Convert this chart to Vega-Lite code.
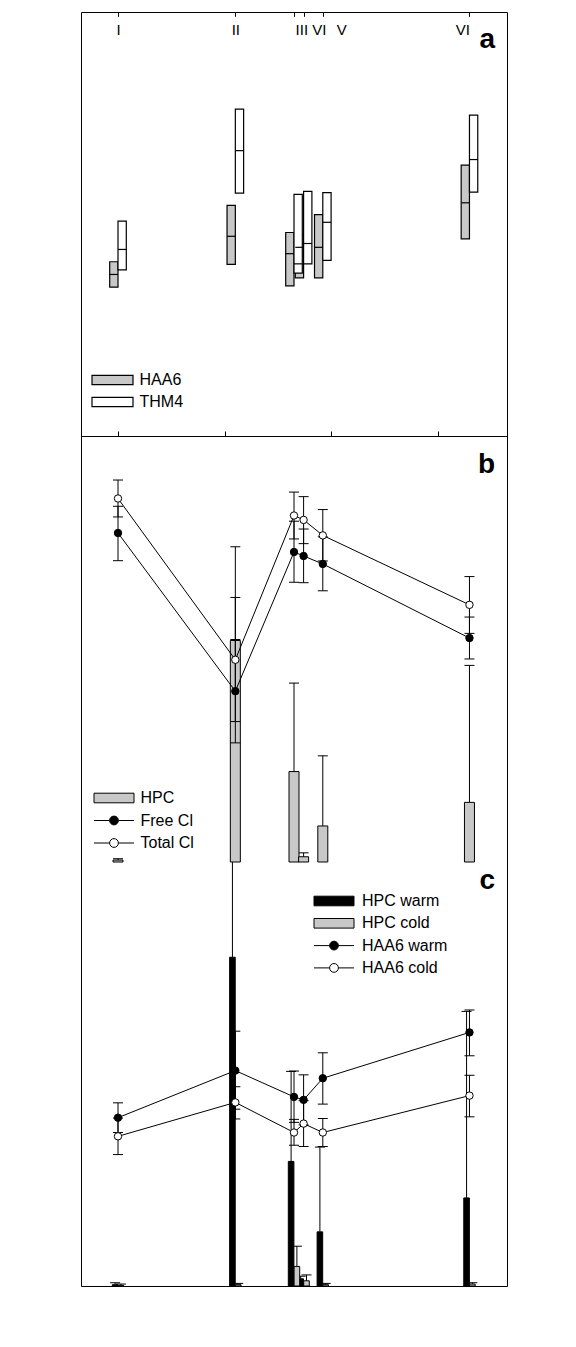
{
  "$schema": "https://vega.github.io/schema/vega-lite/v6.json",
  "width": 426,
  "height": 1274,
  "autosize": {"type": "none"},
  "padding": {"left": 81, "top": 12, "right": 69, "bottom": 61},
  "background": "white",
  "datasets": {
    "boxes": [
      {"site": "I", "dist": 0, "param": "HAA6", "q1": 25.1, "med": 28.1, "q3": 31.1},
      {"site": "I", "dist": 0, "param": "THM4", "q1": 29.2, "med": 34.0, "q3": 40.7},
      {"site": "II", "dist": 1100, "param": "HAA6", "q1": 30.5, "med": 37.1, "q3": 44.4},
      {"site": "II", "dist": 1100, "param": "THM4", "q1": 47.3, "med": 57.3, "q3": 67.1},
      {"site": "III", "dist": 1650, "param": "HAA6", "q1": 25.4, "med": 33.0, "q3": 38.0},
      {"site": "III", "dist": 1650, "param": "THM4", "q1": 28.4, "med": 30.6, "q3": 47.0},
      {"site": "IV", "dist": 1740, "param": "HAA6", "q1": 27.3, "med": 34.5, "q3": 37.5},
      {"site": "IV", "dist": 1740, "param": "THM4", "q1": 30.6, "med": 35.4, "q3": 47.7},
      {"site": "V", "dist": 1920, "param": "HAA6", "q1": 27.3, "med": 34.5, "q3": 42.2},
      {"site": "V", "dist": 1920, "param": "THM4", "q1": 31.4, "med": 40.4, "q3": 47.4},
      {"site": "VI", "dist": 3295, "param": "HAA6", "q1": 36.5, "med": 45.0, "q3": 53.9},
      {"site": "VI", "dist": 3295, "param": "THM4", "q1": 47.5, "med": 55.2, "q3": 65.7}
    ],
    "hpcb": [
      {"dist": 0, "series": "HPC", "value": 0.3, "hi": 0.5},
      {"dist": 1100, "series": "HPC", "value": 33.8, "hi": 48.1},
      {"dist": 1650, "series": "HPC", "value": 13.8, "hi": 27.3},
      {"dist": 1740, "series": "HPC", "value": 0.8, "hi": 1.4},
      {"dist": 1920, "series": "HPC", "value": 5.5, "hi": 16.2},
      {"dist": 3295, "series": "HPC", "value": 9.1, "hi": 30.0}
    ],
    "cl": [
      {"dist": 0, "series": "Free Cl", "value": 1.817, "lo": 1.622, "hi": 2.005},
      {"dist": 1100, "series": "Free Cl", "value": 0.703, "lo": 0.339, "hi": 1.067},
      {"dist": 1650, "series": "Free Cl", "value": 1.683, "lo": 1.47, "hi": 1.9},
      {"dist": 1740, "series": "Free Cl", "value": 1.655, "lo": 1.467, "hi": 1.845},
      {"dist": 1920, "series": "Free Cl", "value": 1.599, "lo": 1.41, "hi": 1.79},
      {"dist": 3295, "series": "Free Cl", "value": 1.077, "lo": 0.93, "hi": 1.225},
      {"dist": 0, "series": "Total Cl", "value": 2.06, "lo": 1.93, "hi": 2.19},
      {"dist": 1100, "series": "Total Cl", "value": 0.924, "lo": 0.489, "hi": 1.363},
      {"dist": 1650, "series": "Total Cl", "value": 1.94, "lo": 1.775, "hi": 2.105},
      {"dist": 1740, "series": "Total Cl", "value": 1.909, "lo": 1.742, "hi": 2.073},
      {"dist": 1920, "series": "Total Cl", "value": 1.8, "lo": 1.62, "hi": 1.982},
      {"dist": 3295, "series": "Total Cl", "value": 1.311, "lo": 1.11, "hi": 1.51}
    ],
    "hpcc": [
      {"dist": 0, "series": "HPC warm", "value": 0.2, "hi": 0.5},
      {"dist": 1100, "series": "HPC warm", "value": 50.4, "hi": 65},
      {"dist": 1650, "series": "HPC warm", "value": 19.1, "hi": 32.9},
      {"dist": 1740, "series": "HPC warm", "value": 1.1, "hi": 1.5},
      {"dist": 1920, "series": "HPC warm", "value": 8.3, "hi": 21.3},
      {"dist": 3295, "series": "HPC warm", "value": 13.5, "hi": 42.1},
      {"dist": 0, "series": "HPC cold", "value": 0.1, "hi": 0.3},
      {"dist": 1100, "series": "HPC cold", "value": 0.2, "hi": 0.4},
      {"dist": 1650, "series": "HPC cold", "value": 3.0, "hi": 6.1},
      {"dist": 1740, "series": "HPC cold", "value": 0.8, "hi": 1.7},
      {"dist": 1920, "series": "HPC cold", "value": 0.2, "hi": 0.4},
      {"dist": 3295, "series": "HPC cold", "value": 0.3, "hi": 0.5}
    ],
    "haa6": [
      {"dist": 0, "series": "HAA6 warm", "value": 29.7, "lo": 26.2, "hi": 33.2},
      {"dist": 1100, "series": "HAA6 warm", "value": 40.8, "lo": 31.7, "hi": 50.1},
      {"dist": 1650, "series": "HAA6 warm", "value": 34.6, "lo": 28.6, "hi": 40.7},
      {"dist": 1740, "series": "HAA6 warm", "value": 33.9, "lo": 28.0, "hi": 39.8},
      {"dist": 1920, "series": "HAA6 warm", "value": 39.0, "lo": 32.9, "hi": 45.0},
      {"dist": 3295, "series": "HAA6 warm", "value": 49.8, "lo": 44.3, "hi": 55.1},
      {"dist": 0, "series": "HAA6 cold", "value": 25.3, "lo": 21.0, "hi": 29.6},
      {"dist": 1100, "series": "HAA6 cold", "value": 33.3, "lo": 29.4, "hi": 37.0},
      {"dist": 1650, "series": "HAA6 cold", "value": 26.2, "lo": 23.2, "hi": 29.3},
      {"dist": 1740, "series": "HAA6 cold", "value": 28.3, "lo": 22.9, "hi": 33.7},
      {"dist": 1920, "series": "HAA6 cold", "value": 26.2, "lo": 22.9, "hi": 29.5},
      {"dist": 3295, "series": "HAA6 cold", "value": 34.9, "lo": 29.9, "hi": 39.7}
    ]
  },
  "resolve": {"scale": {"y": "independent", "fill": "independent"}, "axis": {"x": "independent", "y": "independent"}, "legend": {"fill": "independent"}},
  "layer": [
    {
      "data": {"name": "boxes"},
      "resolve": {"axis": {"x": "independent"}},
      "layer": [
        {
          "transform": [{"filter": "datum.param == 'HAA6'"}],
          "mark": {"type": "bar", "width": 8.3, "xOffset": -4.15, "stroke": "black", "strokeWidth": 1.2},
          "encoding": {
            "x": {"field": "dist", "type": "quantitative", "scale": {"domain": [-300, 3600], "nice": false, "zero": false},
                  "axis": {"orient": "bottom", "offset": -850, "values": [0, 1000, 2000, 3000], "tickSize": -5, "labels": false, "title": null, "domain": true, "domainColor": "black", "domainWidth": 1}},
            "y": {"field": "q1", "type": "quantitative", "scale": {"domain": [-10, 90], "range": [424, 0], "nice": false, "zero": false},
                  "axis": {"orient": "left", "values": [0, 20, 40, 60, 80], "title": "HAA6 or THM4 [ug L⁻¹]", "titleX": -46}},
            "y2": {"field": "q3"},
            "fill": {"field": "param", "type": "nominal", "scale": {"domain": ["HAA6", "THM4"], "range": ["#c8c8c8", "white"]},
                     "legend": {"orient": "none", "legendX": 8, "legendY": 360, "title": null, "symbolSize": 100, "symbolOffset": 15.5, "labelOffset": 19, "rowPadding": 6, "symbolStrokeColor": "black", "symbolStrokeWidth": 1.2, "symbolOpacity": 1,
                                "encode": {"symbols": {"update": {"shape": {"value": "M-4.1,-0.93H4.1V0.93H-4.1Z"}, "size": {"value": 100}, "stroke": {"value": "black"}, "strokeWidth": {"value": 1.2}, "opacity": {"value": 1}}}}}}
          }
        },
        {
          "transform": [{"filter": "datum.param == 'THM4'"}],
          "mark": {"type": "bar", "width": 8.3, "xOffset": 4.15, "stroke": "black", "strokeWidth": 1.2},
          "encoding": {
            "x": {"field": "dist", "type": "quantitative", "axis": null},
            "y": {"field": "q1", "type": "quantitative", "axis": null},
            "y2": {"field": "q3"},
            "fill": {"field": "param", "type": "nominal", "legend": null}
          }
        },
        {
          "transform": [{"filter": "datum.param == 'HAA6'"}],
          "mark": {"type": "tick", "orient": "horizontal", "size": 8.3, "thickness": 1.2, "color": "black", "xOffset": -4.15, "opacity": 1},
          "encoding": {
            "x": {"field": "dist", "type": "quantitative",
                  "axis": {"orient": "top", "values": [0, 1100, 1650, 1740, 1920, 3295], "tickSize": -4.3, "labels": false, "title": null}},
            "y": {"field": "med", "type": "quantitative", "axis": null}
          }
        },
        {
          "transform": [{"filter": "datum.param == 'THM4'"}],
          "mark": {"type": "tick", "orient": "horizontal", "size": 8.3, "thickness": 1.2, "color": "black", "xOffset": 4.15, "opacity": 1},
          "encoding": {
            "x": {"field": "dist", "type": "quantitative",
                  "axis": {"orient": "top", "values": [0, 1100, 1719, 1883, 2094, 3229], "ticks": false, "tickSize": 0, "labelPadding": -25.3, "labelFontSize": 15, "title": null,
                           "labelExpr": "datum.value == 0 ? 'I' : datum.value == 1100 ? 'II' : datum.value == 1719 ? 'III' : datum.value == 1883 ? 'VI' : datum.value == 2094 ? 'V' : 'VI'"}},
            "y": {"field": "med", "type": "quantitative", "axis": null}
          }
        },
        {
          "data": {"values": [{"label": "a"}]},
          "mark": {"type": "text", "fontSize": 28, "fontWeight": "bold", "align": "right", "baseline": "alphabetic", "color": "black"},
          "encoding": {
            "x": {"datum": 3535, "type": "quantitative", "axis": null},
            "y": {"datum": 81.6, "type": "quantitative", "axis": null},
            "text": {"field": "label", "type": "nominal"}
          }
        }
      ]
    },
    {
      "resolve": {"scale": {"y": "independent"}, "axis": {"x": "independent", "y": "independent"}},
      "layer": [
        {
          "data": {"name": "hpcb"},
          "layer": [
            {
              "mark": {"type": "rule", "color": "black", "strokeWidth": 1},
              "encoding": {
                "x": {"field": "dist", "type": "quantitative",
                      "axis": {"orient": "top", "offset": -424, "values": [0, 1000, 2000, 3000], "tickSize": -5, "labels": false, "title": null}},
                "y": {"field": "value", "type": "quantitative", "scale": {"domain": [0, 65], "range": [850, 424], "nice": false, "zero": false},
                      "axis": {"orient": "right", "values": [0, 10, 20, 30, 40, 50, 60], "title": "HPC mL⁻¹", "titleX": 46, "labelPadding": 7}},
                "y2": {"field": "hi"}
              }
            },
            {
              "mark": {"type": "tick", "orient": "horizontal", "size": 10, "thickness": 1, "color": "black", "opacity": 1},
              "encoding": {
                "x": {"field": "dist", "type": "quantitative", "axis": null},
                "y": {"field": "hi", "type": "quantitative", "axis": null}
              }
            },
            {
              "mark": {"type": "bar", "width": 10, "stroke": "black", "strokeWidth": 1},
              "encoding": {
                "x": {"field": "dist", "type": "quantitative", "axis": null},
                "y": {"field": "value", "type": "quantitative", "axis": null, "stack": null},
                "fill": {"field": "series", "type": "nominal", "scale": {"domain": ["HPC", "Free Cl", "Total Cl"], "range": ["#c8c8c8", "black", "white"]},
                         "legend": {"orient": "none", "legendX": 10, "legendY": 778, "title": null, "symbolSize": 100, "symbolOffset": 15, "labelOffset": 18.5, "rowPadding": 6.5, "symbolStrokeColor": "black", "symbolStrokeWidth": 1, "symbolOpacity": 1,
                                    "encode": {"symbols": {"update": {"shape": {"signal": "datum.value === 'HPC' ? 'M-4,-0.96H4V0.96H-4Z' : 'M-4,0H-0.88M0.88,0H4M0.88,0A0.88,0.88,0,1,1,-0.88,0A0.88,0.88,0,1,1,0.88,0Z'"}, "size": {"value": 100}, "stroke": {"value": "black"}, "strokeWidth": {"value": 1}, "opacity": {"value": 1}}}}}}
              }
            }
          ]
        },
        {
          "data": {"name": "cl"},
          "layer": [
            {
              "mark": {"type": "rule", "color": "black", "strokeWidth": 1},
              "encoding": {
                "x": {"field": "dist", "type": "quantitative",
                      "axis": {"orient": "bottom", "offset": -424, "values": [0, 1000, 2000, 3000], "tickSize": -5, "labels": false, "title": null, "domain": true, "domainColor": "black", "domainWidth": 1}},
                "y": {"field": "lo", "type": "quantitative", "scale": {"domain": [-0.5, 2.5], "range": [850, 424], "nice": false, "zero": false},
                      "axis": {"orient": "left", "values": [-0.5, 0, 0.5, 1, 1.5, 2, 2.5], "labelExpr": "datum.value < 0 ? '-0.5' : format(datum.value, '.1f')", "title": "Residual chlorine [mg L⁻¹]", "titleX": -46}},
                "y2": {"field": "hi"},
                "detail": {"field": "series"}
              }
            },
            {
              "mark": {"type": "tick", "orient": "horizontal", "size": 10, "thickness": 1, "color": "black", "opacity": 1},
              "encoding": {
                "x": {"field": "dist", "type": "quantitative", "axis": null},
                "y": {"field": "lo", "type": "quantitative", "axis": null}
              }
            },
            {
              "mark": {"type": "tick", "orient": "horizontal", "size": 10, "thickness": 1, "color": "black", "opacity": 1},
              "encoding": {
                "x": {"field": "dist", "type": "quantitative", "axis": null},
                "y": {"field": "hi", "type": "quantitative", "axis": null}
              }
            },
            {
              "mark": {"type": "line", "color": "black", "strokeWidth": 1},
              "encoding": {
                "x": {"field": "dist", "type": "quantitative", "axis": null},
                "y": {"field": "value", "type": "quantitative", "axis": null},
                "detail": {"field": "series"}
              }
            },
            {
              "mark": {"type": "point", "shape": "circle", "size": 55, "filled": true, "stroke": "black", "strokeWidth": 1, "opacity": 1},
              "encoding": {
                "x": {"field": "dist", "type": "quantitative", "axis": null},
                "y": {"field": "value", "type": "quantitative", "axis": null},
                "fill": {"field": "series", "type": "nominal", "legend": null}
              }
            },
            {
              "data": {"values": [{"label": "b"}]},
              "mark": {"type": "text", "fontSize": 28, "fontWeight": "bold", "align": "right", "baseline": "alphabetic", "color": "black"},
              "encoding": {
                "x": {"datum": 3535, "type": "quantitative", "axis": null},
                "y": {"datum": 2.242, "type": "quantitative", "axis": null},
                "text": {"field": "label", "type": "nominal"}
              }
            }
          ]
        }
      ]
    },
    {
      "resolve": {"scale": {"y": "independent"}, "axis": {"x": "independent", "y": "independent"}},
      "layer": [
        {
          "data": {"name": "hpcc"},
          "layer": [
            {
              "transform": [{"filter": "datum.series == 'HPC warm'"}],
              "mark": {"type": "rule", "color": "black", "strokeWidth": 1, "xOffset": -2.9},
              "encoding": {
                "x": {"field": "dist", "type": "quantitative",
                      "axis": {"orient": "top", "offset": -850, "values": [0, 1000, 2000, 3000], "tickSize": -5, "labels": false, "title": null}},
                "y": {"field": "value", "type": "quantitative", "scale": {"domain": [0, 65], "range": [1274, 850], "nice": false, "zero": false},
                      "axis": {"orient": "right", "values": [0, 10, 20, 30, 40, 50, 60], "title": "HPC mL⁻¹", "titleX": 46, "labelPadding": 7}},
                "y2": {"field": "hi"}
              }
            },
            {
              "transform": [{"filter": "datum.series == 'HPC cold'"}],
              "mark": {"type": "rule", "color": "black", "strokeWidth": 1, "xOffset": 2.9},
              "encoding": {
                "x": {"field": "dist", "type": "quantitative", "axis": null},
                "y": {"field": "value", "type": "quantitative", "axis": null},
                "y2": {"field": "hi"}
              }
            },
            {
              "transform": [{"filter": "datum.series == 'HPC warm' && datum.hi < 65"}],
              "mark": {"type": "tick", "orient": "horizontal", "size": 10, "thickness": 1, "color": "black", "xOffset": -2.9, "opacity": 1},
              "encoding": {
                "x": {"field": "dist", "type": "quantitative", "axis": null},
                "y": {"field": "hi", "type": "quantitative", "axis": null}
              }
            },
            {
              "transform": [{"filter": "datum.series == 'HPC cold'"}],
              "mark": {"type": "tick", "orient": "horizontal", "size": 10, "thickness": 1, "color": "black", "xOffset": 2.9, "opacity": 1},
              "encoding": {
                "x": {"field": "dist", "type": "quantitative", "axis": null},
                "y": {"field": "hi", "type": "quantitative", "axis": null}
              }
            },
            {
              "transform": [{"filter": "datum.series == 'HPC warm'"}],
              "mark": {"type": "bar", "width": 5.6, "xOffset": -2.9, "stroke": "black", "strokeWidth": 1},
              "encoding": {
                "x": {"field": "dist", "type": "quantitative", "axis": null},
                "y": {"field": "value", "type": "quantitative", "axis": null, "stack": null},
                "fill": {"field": "series", "type": "nominal", "scale": {"domain": ["HPC warm", "HPC cold", "HAA6 warm", "HAA6 cold"], "range": ["black", "#c8c8c8", "black", "white"]},
                         "legend": {"orient": "none", "legendX": 230, "legendY": 881, "title": null, "symbolSize": 100, "symbolOffset": 15, "labelOffset": 20, "rowPadding": 6.3, "symbolStrokeColor": "black", "symbolStrokeWidth": 1, "symbolOpacity": 1,
                                    "encode": {"symbols": {"update": {"shape": {"signal": "indexof(['HPC warm', 'HPC cold'], datum.value) >= 0 ? 'M-4,-0.96H4V0.96H-4Z' : 'M-4,0H-0.88M0.88,0H4M0.88,0A0.88,0.88,0,1,1,-0.88,0A0.88,0.88,0,1,1,0.88,0Z'"}, "size": {"value": 100}, "stroke": {"value": "black"}, "strokeWidth": {"value": 1}, "opacity": {"value": 1}}}}}}
              }
            },
            {
              "transform": [{"filter": "datum.series == 'HPC cold'"}],
              "mark": {"type": "bar", "width": 5.6, "xOffset": 2.9, "stroke": "black", "strokeWidth": 1},
              "encoding": {
                "x": {"field": "dist", "type": "quantitative", "axis": null},
                "y": {"field": "value", "type": "quantitative", "axis": null, "stack": null},
                "fill": {"field": "series", "type": "nominal", "legend": null}
              }
            }
          ]
        },
        {
          "data": {"name": "haa6"},
          "layer": [
            {
              "mark": {"type": "rule", "color": "black", "strokeWidth": 1},
              "encoding": {
                "x": {"field": "dist", "type": "quantitative",
                      "axis": {"orient": "bottom", "values": [0, 1000, 2000, 3000], "tickSize": 6, "labelPadding": 7, "title": "Distance from distribution inlet [m]", "titlePadding": 8}},
                "y": {"field": "lo", "type": "quantitative", "scale": {"domain": [-10, 90], "range": [1274, 850], "nice": false, "zero": false},
                      "axis": {"orient": "left", "values": [0, 20, 40, 60, 80], "title": "HAA6 [mg L⁻¹]", "titleX": -46}},
                "y2": {"field": "hi"},
                "detail": {"field": "series"}
              }
            },
            {
              "mark": {"type": "tick", "orient": "horizontal", "size": 10, "thickness": 1, "color": "black", "opacity": 1},
              "encoding": {
                "x": {"field": "dist", "type": "quantitative", "axis": null},
                "y": {"field": "lo", "type": "quantitative", "axis": null}
              }
            },
            {
              "mark": {"type": "tick", "orient": "horizontal", "size": 10, "thickness": 1, "color": "black", "opacity": 1},
              "encoding": {
                "x": {"field": "dist", "type": "quantitative", "axis": null},
                "y": {"field": "hi", "type": "quantitative", "axis": null}
              }
            },
            {
              "mark": {"type": "line", "color": "black", "strokeWidth": 1},
              "encoding": {
                "x": {"field": "dist", "type": "quantitative", "axis": null},
                "y": {"field": "value", "type": "quantitative", "axis": null},
                "detail": {"field": "series"}
              }
            },
            {
              "mark": {"type": "point", "shape": "circle", "size": 55, "filled": true, "stroke": "black", "strokeWidth": 1, "opacity": 1},
              "encoding": {
                "x": {"field": "dist", "type": "quantitative", "axis": null},
                "y": {"field": "value", "type": "quantitative", "axis": null},
                "fill": {"field": "series", "type": "nominal", "legend": null}
              }
            },
            {
              "data": {"values": [{"label": "c"}]},
              "mark": {"type": "text", "fontSize": 28, "fontWeight": "bold", "align": "right", "baseline": "alphabetic", "color": "black"},
              "encoding": {
                "x": {"datum": 3535, "type": "quantitative", "axis": null},
                "y": {"datum": 83.6, "type": "quantitative", "axis": null},
                "text": {"field": "label", "type": "nominal"}
              }
            }
          ]
        }
      ]
    }
  ],
  "config": {
    "font": "Liberation Sans",
    "view": {"stroke": "black", "strokeWidth": 1},
    "axis": {"domain": false, "grid": false, "tickColor": "black", "tickWidth": 1, "tickSize": 5, "labelColor": "black", "labelFontSize": 16, "labelPadding": 5, "titleColor": "black", "titleFontSize": 20, "titleFontWeight": "bold", "labelOverlap": false, "labelFlush": false},
    "legend": {"labelFontSize": 16, "labelColor": "black", "padding": 0, "labelFont": "Liberation Sans"}
  }
}
